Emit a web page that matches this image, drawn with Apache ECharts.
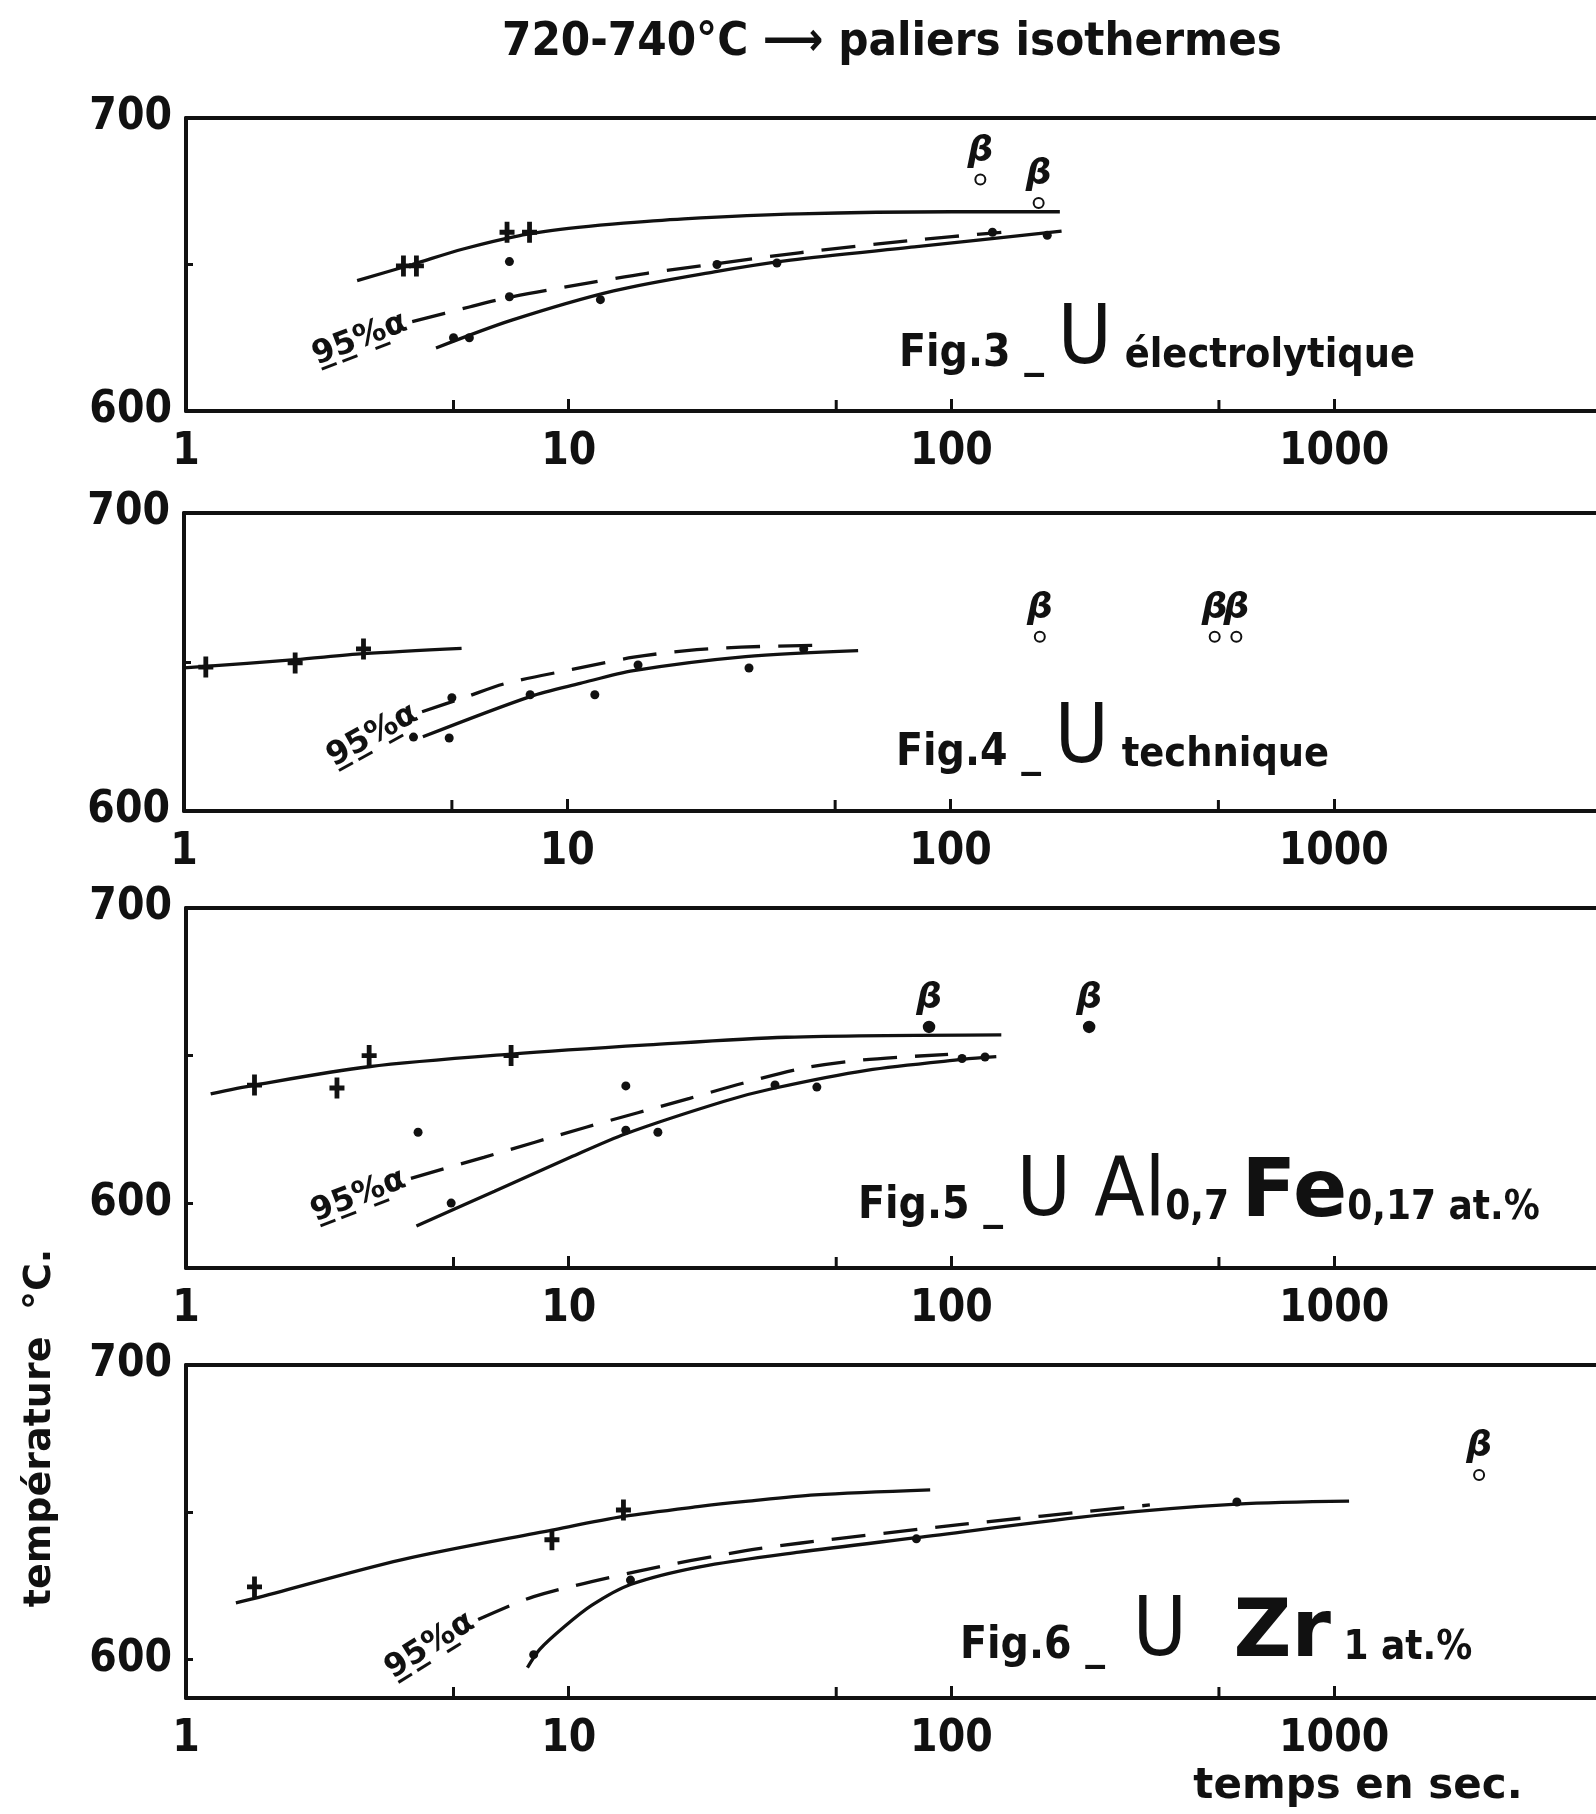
<!DOCTYPE html>
<html><head><meta charset="utf-8">
<script src="https://cdn.jsdelivr.net/npm/echarts@6/dist/echarts.min.js"></script>
<style>html,body{margin:0;padding:0;background:#fff}#c{width:1596px;height:1814px}</style>
</head><body><div id="c"></div><script>
// ---------- data ----------
const xMinorTicks = [5, 50, 500];
const yLabels = [600, 700];
const yTicks = [600, 650, 700];

// Fig.3  U électrolytique
const fig3Upper = [[2.8,644.5],[3.9,650],[5.3,655.3],[7.4,659.8],[10,662.3],[13,663.8],[20,665.6],[40,667.3],[100,668],[192,668]];
const fig3Start = [[3.7,649.5],[4.0,649.5],[6.9,661],[7.9,661]];
const fig3Alpha = [[3.9,630.5],[5.5,635.5],[7.0,638.8],[11.4,643.8],[16,647],[25,650.5],[40,654],[80,658.3],[135,661]];
const fig3Lower = [[4.5,621.5],[7.1,631],[13.1,641],[24,647.5],[38,651.5],[80,656],[194,661.4]];
const fig3End = [[5.0,625],[5.5,625],[7.0,639],[7.0,651],[12.1,638],[24.4,650],[35,650.5],[128,661],[178,660]];
const fig3Beta = [[119,679],[169,671]];

// Fig.4  U technique
const fig4Upper = [[1.0,648],[1.95,650.8],[2.94,652.8],[5.3,654.6]];
const fig4Start = [[1.14,648.3],[1.95,649.7],[2.94,654.4]];
const fig4Alpha = [[4.18,633.3],[5.4,638.1],[6.9,642.8],[10.3,647.5],[14.9,651.6],[20.5,653.8],[28.4,655],[45,655.6]];
const fig4Lower = [[4.2,624.9],[8.0,638.4],[10.8,642.8],[14.9,647.1],[29.2,651.8],[57.4,653.8]];
const fig4End = [[3.97,624.8],[4.92,624.5],[5.0,638],[8.0,639],[11.8,639],[15.3,649],[29.8,648],[41.4,654.4]];
const fig4Beta = [[171,658.5],[489,658.5],[557,658.5]];

// Fig.5  U Al0,7 Fe0,17 at.%
const fig5Upper = [[1.16,637],[1.51,640],[3.0,646.2],[7.07,650.5],[16.1,653.6],[37,656.2],[135,657]];
const fig5Start = [[1.51,640],[2.48,639],[3.01,650],[7.07,650]];
const fig5Alpha = [[3.87,608.4],[6.0,615.5],[11.1,625.7],[20.7,635.5],[28.5,640.6],[41,645.7],[58.7,648.5],[98,650.4]];
const fig5Lower = [[4.0,592.2],[6.4,604],[10.1,615.5],[14.1,623.5],[25.5,634.5],[34.6,639],[60,645],[107,648.7],[131,649.6]];
const fig5End = [[4.04,624],[4.93,600],[14.1,624.7],[14.1,639.7],[17.1,624],[34.6,640],[44.5,639.3],[106.6,649],[122.4,649.5]];
const fig5Beta = [[87.4,659.7],[229,659.7]];

// Fig.6  U Zr 1 at.%
const fig6Upper = [[1.35,619.3],[1.51,620.8],[3.65,633.9],[9.04,644],[13.9,648.6],[22,652],[29,653.7],[44,655.9],[88,657.6]];
const fig6Start = [[1.51,624.7],[9.04,640.7],[13.9,650.8]];
const fig6Alpha = [[5.8,613.6],[8.1,621.4],[14.9,629.8],[29,637],[40.5,639.6],[105,645.8],[330,652.5]];
const fig6Lower = [[7.8,597.3],[8.4,603.5],[9.7,611],[11.5,618.5],[14.5,625.5],[22,631.5],[40,636.5],[81,641.4],[250,649.2],[557,652.8],[1094,653.8]];
const fig6End = [[8.1,601.7],[14.5,627],[81,641],[557,653.5]];
const fig6Beta = [[2392,662.7]];

const titleText = '720-740°C ⟶ paliers isothermes';
const yName = 'température  °C.';
const xName = 'temps en sec.';
const alphaText = '9\u03325\u0332%\u0332\u03b1';
const betaText = 'β';

// ---------- layout / styles ----------
const FF = '"DejaVu Sans Condensed","DejaVu Sans",sans-serif';
const FS = '"DejaVu Sans",sans-serif';
const INK = '#111';
const panels = [
  {upper:fig3Upper,start:fig3Start,alpha:fig3Alpha,lower:fig3Lower,end:fig3End,beta:fig3Beta,
   top:118,height:293,left:186,ymin:600,rot:21,betaSym:'emptyCircle'},
  {upper:fig4Upper,start:fig4Start,alpha:fig4Alpha,lower:fig4Lower,end:fig4End,beta:fig4Beta,
   top:513,height:298,left:184,ymin:600,rot:29,betaSym:'emptyCircle'},
  {upper:fig5Upper,start:fig5Start,alpha:fig5Alpha,lower:fig5Lower,end:fig5End,beta:fig5Beta,
   top:908,height:360,left:186,ymin:578,rot:21,betaSym:'circle'},
  {upper:fig6Upper,start:fig6Start,alpha:fig6Alpha,lower:fig6Lower,end:fig6End,beta:fig6Beta,
   top:1365,height:333,left:186,ymin:587,rot:32,betaSym:'emptyCircle'}
];
const XMAX = 4833;
const crossPath = 'path://M3.4,0H6.6V5.4H10V8.6H6.6V14H3.4V8.6H0V5.4H3.4Z';

const grids = [], xAxes = [], topAxes = [], yAxes = [], series = [];
panels.forEach((p, i) => {
  grids.push({left:p.left, right:0, top:p.top, height:p.height, show:false});
  xAxes.push({type:'log', logBase:10, gridIndex:i, min:1, max:XMAX, position:'bottom',
    axisLine:{show:true, lineStyle:{color:INK, width:4}},
    axisTick:{show:true, inside:true, length:12, lineStyle:{color:INK, width:3}},
    axisLabel:{show:true, margin:20, fontSize:44, fontWeight:'bold', fontFamily:FF, color:INK,
      showMaxLabel:false, formatter:v => String(Math.round(v))},
    splitLine:{show:false}});
  topAxes.push({type:'log', logBase:10, gridIndex:i, min:1, max:XMAX, position:'top',
    axisLine:{show:true, lineStyle:{color:INK, width:4}},
    axisTick:{show:false}, axisLabel:{show:false}, splitLine:{show:false}});
  yAxes.push({type:'value', gridIndex:i, min:p.ymin, max:700,
    axisLine:{show:true, lineStyle:{color:INK, width:4}},
    axisTick:{show:true, inside:true, length:7, customValues:yTicks, lineStyle:{color:INK, width:3}},
    axisLabel:{show:true, customValues:yLabels, margin:14, fontSize:44, fontWeight:'bold', fontFamily:FF, color:INK},
    splitLine:{show:false}});
  const base = {xAxisIndex:i, yAxisIndex:i, animation:false, silent:true};
  const lineBase = Object.assign({type:'line', smooth:0.3, symbol:'none'}, base);
  series.push(Object.assign({}, lineBase, {data:p.upper, lineStyle:{color:INK, width:3.3}}));
  series.push(Object.assign({}, lineBase, {data:p.lower, lineStyle:{color:INK, width:3.3}}));
  series.push(Object.assign({}, lineBase, {data:p.alpha, lineStyle:{color:INK, width:3.3, type:[34,18]}}));
  series.push(Object.assign({type:'scatter', data:p.start, symbol:crossPath, symbolSize:[15,21],
    itemStyle:{color:INK, opacity:1}}, base));
  series.push(Object.assign({type:'scatter', data:p.end, symbol:'circle', symbolSize:9,
    itemStyle:{color:INK, opacity:1}}, base));
  series.push(Object.assign({type:'scatter', data:p.beta, symbol:p.betaSym, symbolSize:10,
    itemStyle:{color:INK, borderColor:INK, borderWidth:2.5, opacity:1},
    label:{show:true, position:'top', distance:4, formatter:betaText, fontSize:36, fontWeight:'bold',
      fontStyle:'italic', fontFamily:FS, color:INK, opacity:1}}, base));
  series.push(Object.assign({type:'scatter', data:[p.alpha[0]], symbol:'circle', symbolSize:1,
    itemStyle:{color:'rgba(0,0,0,0)', opacity:1},
    label:{show:true, position:'left', distance:6, rotate:p.rot, formatter:alphaText, fontSize:32,
      fontWeight:'bold', fontFamily:FS, color:INK, opacity:1}}, base));
  series.push(Object.assign({type:'scatter', data:xMinorTicks.map(v => [v, p.ymin]), symbol:'rect',
    symbolSize:[3,11], symbolOffset:[0,-5.5], clip:false, itemStyle:{color:INK, opacity:1}}, base));
});

function tok(size, pb, extra) {
  return Object.assign({fontSize:size, lineHeight:size, fontWeight:'bold', fontFamily:FF, color:INK,
    verticalAlign:'bottom', padding:[0,0,pb,0]}, extra || {});
}
const big = 82;
const pad = s => Math.round(0.154 * (big - s));
const richBase = {
  f: tok(44, pad(44)),
  u: tok(big, 0, {fontWeight:'normal'}),
  t: tok(41, pad(41)),
  s: tok(40, pad(40)),
  z: tok(80, pad(80), {fontFamily:FS, fontWeight:'bold'})
};
const figTexts = [
  {x:899, base:370, text:'{f|Fig.3 _ }{u|U}{t| électrolytique}'},
  {x:896, base:769, text:'{f|Fig.4 _ }{u|U}{t| technique}'},
  {x:858, base:1222, text:'{f|Fig.5 _ }{u|U Al}{s|0,7 }{z|Fe}{s|0,17 at.%}'},
  {x:960, base:1662, text:'{f|Fig.6 _  }{u|U  }{z|Zr}{s| 1 at.%}'}
];
const graphics = [
  {type:'text', x:892, y:43, style:{text:titleText, fontSize:47, fontWeight:'bold', fontFamily:FF,
    fill:INK, align:'center', verticalAlign:'middle'}},
  {type:'text', x:40, y:1428, rotation:Math.PI/2, style:{text:yName, fontSize:38, fontWeight:'bold',
    fontFamily:FS, fill:INK, align:'center', verticalAlign:'middle'}},
  {type:'text', x:1358, y:1787, style:{text:xName, fontSize:42, fontWeight:'bold', fontFamily:FS,
    fill:INK, align:'center', verticalAlign:'middle'}}
];
figTexts.forEach(f => graphics.push({type:'text', x:f.x, y:f.base + Math.round(0.154*big),
  style:{text:f.text, rich:richBase, align:'left', verticalAlign:'bottom', fill:INK}}));

const chart = echarts.init(document.getElementById('c'), null, {renderer:'canvas'});
chart.setOption({
  backgroundColor:'#ffffff',
  animation:false,
  grid:grids, xAxis:xAxes.concat(topAxes), yAxis:yAxes, series:series, graphic:graphics
});
</script></body></html>
